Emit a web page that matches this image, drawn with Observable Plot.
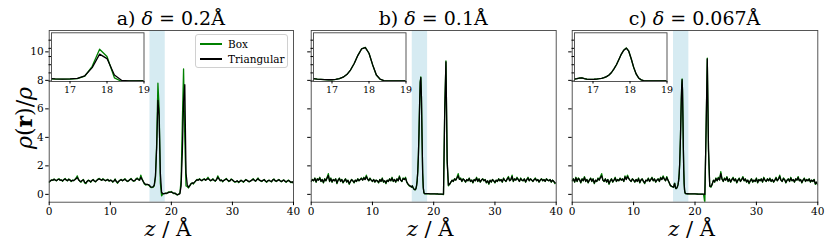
<!DOCTYPE html>
<html><head><meta charset="utf-8">
<script src="https://cdn.jsdelivr.net/npm/d3@7"></script>
<script src="https://cdn.jsdelivr.net/npm/@observablehq/plot@0.6"></script>
<style>
body{margin:0;background:#fff;}
#fig{position:relative;width:830px;height:249px;font-family:"DejaVu Serif",serif;color:#000;overflow:hidden;}
#fig svg{position:absolute;left:0;top:0;}
.lbl{position:absolute;white-space:nowrap;line-height:1;}
</style></head><body><div id="fig"></div>
<script>
// ---------- DATA ----------
const panelLetters = ["a)", "b)", "c)"];
const deltaLabels = ["0.2", "0.1", "0.067"];
const seriesNames = ["Box", "Triangular"];
const xTicks = [0, 10, 20, 30, 40];
const yTicks = [0, 2, 4, 6, 8, 10];
const insetXTicks = [17, 18, 19];
const insetYTicks = [0, 2, 4, 6, 8, 10];
const band = [16.5, 19];

// Panel a: z = 0 .. 40, step 0.2
const boxA = [
0.85,0.95,1.02,0.98,1.08,1.0,0.95,1.05,1.1,0.98,
1.02,0.92,1.05,1.12,1.0,0.95,1.08,1.02,0.9,1.0,
0.96,1.05,1.15,1.3,1.05,0.92,0.85,0.98,1.05,0.8,
0.75,0.9,1.0,0.95,0.85,0.98,1.05,0.92,0.88,1.0,
1.08,1.12,1.05,0.98,1.1,1.02,0.95,1.0,1.06,0.92,
1.0,0.98,0.85,0.95,1.08,0.88,0.78,0.92,1.0,1.05,
0.95,1.02,1.1,0.98,0.9,0.95,1.05,1.12,1.0,0.92,
0.95,1.08,1.15,1.05,1.0,1.35,1.1,0.9,0.72,0.65,
0.7,0.68,
0.6,0.5,0.48,0.5,0.6,1.2,3.6,7.8,6.0,0.8,
-0.1,0.02,0.05,0.08,0.05,0.12,0.18,0.15,0.2,0.12,0.05,0.1,0.0,-0.05,0.02,0.1,
1.0,5.0,8.8,4.0,0.6,0.55,
0.45,0.6,0.75,0.8,0.72,0.85,0.95,1.05,1.0,1.1,
1.02,0.95,1.05,1.1,0.98,1.08,1.2,1.05,0.95,1.0,
1.1,0.98,0.92,1.05,1.3,1.12,0.95,1.02,0.88,0.98,
1.05,1.12,1.0,0.9,0.95,1.08,1.02,0.92,0.85,0.88,
0.95,0.82,0.9,1.0,0.92,0.85,0.95,1.05,0.98,0.9,
0.88,0.95,1.02,1.1,0.98,0.92,1.05,1.15,1.0,0.95,
0.9,0.98,1.05,0.92,0.85,0.95,1.0,0.92,0.88,1.02,
1.08,0.95,0.9,0.98,1.05,0.96,0.88,0.95,1.02,0.92,
0.85,0.95,1.0,0.9,0.82,0.88,0.78];
const triA = [
0.88,0.95,1.0,1.0,1.05,1.0,0.97,1.03,1.06,1.0,
1.0,0.95,1.03,1.08,1.0,0.97,1.05,1.0,0.93,0.98,
0.97,1.03,1.1,1.18,1.03,0.94,0.9,0.97,1.02,0.85,
0.8,0.9,0.98,0.95,0.88,0.97,1.03,0.94,0.9,0.98,
1.05,1.08,1.04,0.99,1.06,1.01,0.97,1.0,1.03,0.95,
0.99,0.97,0.88,0.94,1.04,0.9,0.83,0.92,0.99,1.03,
0.96,1.01,1.06,0.98,0.92,0.95,1.03,1.08,1.0,0.94,
0.96,1.05,1.1,1.04,1.0,1.2,1.05,0.9,0.76,0.7,
0.7,0.68,
0.65,0.52,0.5,0.52,0.65,1.3,3.3,6.6,5.5,1.5,
0.15,0.05,0.05,0.06,0.08,0.1,0.14,0.15,0.16,0.12,0.08,0.06,0.02,-0.02,0.0,0.05,
0.6,3.0,6.5,7.7,1.5,0.7,
0.5,0.6,0.72,0.8,0.78,0.86,0.95,1.02,1.0,1.06,
1.0,0.97,1.03,1.06,1.0,1.05,1.12,1.04,0.97,1.0,
1.05,0.99,0.95,1.03,1.2,1.08,0.97,1.0,0.92,0.98,
1.03,1.08,1.0,0.93,0.96,1.05,1.01,0.94,0.89,0.9,
0.95,0.86,0.91,0.98,0.94,0.88,0.95,1.02,0.98,0.92,
0.9,0.95,1.0,1.06,0.98,0.94,1.03,1.1,1.0,0.96,
0.92,0.98,1.03,0.94,0.88,0.95,0.99,0.94,0.9,1.0,
1.05,0.96,0.92,0.98,1.03,0.96,0.9,0.95,1.0,0.93,
0.88,0.94,0.98,0.91,0.85,0.88,0.8];

// Panel b: left z = 0 .. 16.4 (step 0.2), peak z = 16.5 .. 19.0 (step 0.1), right z = 19.2 .. 40 (step 0.2)
const boxBLeft = [
0.9,1.05,0.95,1.15,0.85,1.1,1.0,1.2,0.9,1.05,
0.8,1.1,0.95,1.2,1.45,0.9,1.15,0.85,1.05,0.95,
1.1,0.75,1.0,1.15,0.9,1.05,0.8,0.95,1.1,0.85,
1.0,0.7,0.9,1.05,0.95,0.8,1.0,0.9,1.1,0.95,
1.05,1.15,1.0,1.2,1.05,1.35,1.1,0.95,1.15,1.0,
0.9,1.05,0.85,1.0,0.95,0.8,1.05,0.9,1.15,0.85,
0.95,0.75,1.0,0.9,1.1,0.95,1.2,0.9,1.05,0.85,
1.1,0.95,1.3,1.0,0.9,1.15,1.05,1.2,0.85,0.7,
0.6,0.55,0.5];
const triBLeft = [
0.92,1.03,0.96,1.12,0.88,1.07,1.0,1.15,0.92,1.03,
0.84,1.07,0.96,1.15,1.32,0.93,1.1,0.88,1.03,0.96,
1.07,0.8,1.0,1.11,0.92,1.03,0.84,0.96,1.07,0.88,
0.98,0.76,0.9,1.03,0.95,0.84,0.99,0.92,1.07,0.96,
1.04,1.11,1.0,1.15,1.04,1.25,1.07,0.97,1.1,1.0,
0.92,1.03,0.88,0.99,0.95,0.84,1.03,0.92,1.1,0.88,
0.95,0.8,0.98,0.92,1.07,0.96,1.14,0.92,1.03,0.88,
1.07,0.96,1.22,1.0,0.92,1.1,1.04,1.14,0.88,0.74,
0.64,0.58,0.52];
const boxBPeak = [0.6,0.5,0.42,0.35,0.33,0.32,0.4,0.6,0.95,1.6,2.7,4.3,6.3,7.9,8.25,6.8,3.9,1.45,0.45,0.1,0.05,0.04,0.05,0.04,0.05,0.04];
const triBPeak = [0.6,0.5,0.43,0.36,0.33,0.33,0.4,0.6,0.95,1.6,2.7,4.3,6.3,7.85,8.2,6.8,3.95,1.5,0.48,0.12,0.06,0.05,0.05,0.05,0.05,0.05];
const boxBRight = [
0.04,0.04,0.03,0.04,0.03,0.03,0.02,0.03,0.02,0.02,0.01,0.0,-0.01,
6.0,9.37,2.2,0.6,
0.7,0.85,1.0,0.9,1.1,1.0,1.2,1.45,1.05,1.15,
0.9,1.1,1.0,0.85,1.05,0.95,1.15,0.9,1.0,0.8,
1.05,0.95,1.2,0.9,1.1,0.85,1.0,1.1,0.95,1.05,
0.8,0.95,0.7,1.0,0.85,1.05,0.95,0.8,1.0,0.9,
1.1,0.95,1.05,0.85,1.15,1.0,0.9,1.1,1.25,0.95,
1.05,1.35,0.9,1.1,1.0,1.2,1.05,0.9,1.15,1.0,
0.95,1.1,0.85,1.05,1.2,0.95,1.1,1.0,0.9,1.05,
1.15,0.95,1.05,0.85,1.0,1.1,0.95,1.05,0.9,1.1,
1.0,0.95,1.05,0.85,1.0,0.9,0.75,0.8];
const triBRight = [
0.05,0.04,0.04,0.04,0.03,0.03,0.03,0.03,0.02,0.02,0.02,0.01,0.01,
5.8,9.3,2.4,0.65,
0.72,0.86,0.98,0.92,1.07,1.0,1.15,1.3,1.05,1.1,
0.92,1.07,1.0,0.88,1.03,0.96,1.11,0.92,1.0,0.84,
1.03,0.96,1.14,0.92,1.07,0.88,1.0,1.07,0.96,1.03,
0.84,0.95,0.76,0.98,0.88,1.03,0.95,0.84,0.99,0.92,
1.07,0.96,1.03,0.88,1.1,1.0,0.92,1.07,1.18,0.96,
1.03,1.25,0.93,1.07,1.0,1.14,1.04,0.92,1.1,1.0,
0.96,1.07,0.88,1.03,1.14,0.96,1.07,1.0,0.92,1.03,
1.1,0.96,1.03,0.88,1.0,1.07,0.96,1.03,0.92,1.07,
1.0,0.96,1.03,0.88,0.99,0.92,0.8,0.82];

// Panel c: left z = 0 .. 16.4 (step 0.2), peak z = 16.5 .. 18.967 (step 1/15), right z = 19.2 .. 40 (step 0.2)
const boxCLeft = [
0.95,1.1,0.85,1.2,0.9,1.15,1.05,0.8,1.1,0.95,
1.25,0.9,1.05,0.8,1.0,1.15,0.9,1.1,0.75,1.0,
0.9,1.15,1.0,1.25,1.45,1.0,0.9,1.1,0.85,1.05,
0.7,0.95,1.1,0.85,1.0,1.2,0.9,1.05,0.95,1.15,
1.0,1.1,0.9,1.3,1.05,1.35,1.15,1.0,0.9,1.1,
1.0,0.85,1.05,0.9,1.15,0.8,1.0,1.1,0.9,0.75,
1.0,0.95,1.15,0.9,1.05,1.2,0.95,1.1,0.85,1.0,
1.1,0.9,1.2,1.05,1.3,1.1,0.95,1.25,1.0,0.8,
0.6,0.55,0.52];
const triCLeft = [
0.96,1.07,0.88,1.15,0.92,1.11,1.03,0.84,1.07,0.96,
1.18,0.92,1.03,0.84,1.0,1.11,0.92,1.07,0.8,0.99,
0.92,1.1,1.0,1.18,1.3,1.0,0.92,1.07,0.88,1.03,
0.76,0.95,1.07,0.88,1.0,1.14,0.92,1.03,0.96,1.1,
1.0,1.07,0.92,1.22,1.04,1.25,1.1,1.0,0.92,1.07,
1.0,0.88,1.03,0.92,1.1,0.84,1.0,1.07,0.92,0.8,
0.99,0.95,1.1,0.92,1.03,1.15,0.96,1.07,0.88,1.0,
1.07,0.92,1.15,1.04,1.22,1.07,0.96,1.18,1.0,0.83,
0.63,0.57,0.53];
const boxCPeak = [0.5,0.6,0.75,0.78,0.6,0.45,0.4,0.42,0.45,0.5,0.58,0.68,0.85,1.1,1.5,2.1,3.0,4.0,5.3,6.6,7.6,8.1,7.3,5.4,3.3,1.7,0.75,0.3,0.12,0.06,0.05,0.04,0.05,0.04,0.04,0.05,0.04,0.04];
const triCPeak = [0.5,0.58,0.72,0.76,0.6,0.46,0.41,0.42,0.45,0.5,0.58,0.68,0.86,1.1,1.5,2.1,3.0,4.0,5.3,6.6,7.55,8.05,7.3,5.45,3.35,1.75,0.78,0.32,0.13,0.07,0.05,0.05,0.05,0.05,0.04,0.05,0.05,0.04];
const boxCRight = [
0.04,0.03,0.04,0.03,0.03,0.02,0.03,0.02,0.02,0.01,0.01,0.0,
-0.6,4.5,9.56,3.0,0.55,
0.5,0.7,1.0,0.85,1.15,0.95,1.2,1.0,1.6,1.1,
0.9,1.15,1.0,1.25,0.9,1.1,0.85,1.05,1.2,0.95,
1.1,0.8,1.0,1.15,0.9,1.05,1.25,0.95,1.1,0.85,
1.0,0.75,0.95,1.1,0.85,1.0,0.9,1.15,0.8,1.05,
0.95,1.1,0.85,1.2,1.0,0.9,1.1,0.95,1.15,0.9,
1.05,0.85,1.0,1.2,0.95,1.1,1.35,1.0,0.9,1.15,
1.05,0.8,1.0,1.1,0.9,1.2,0.95,1.05,0.85,1.1,
1.0,1.25,0.95,1.05,0.8,1.0,1.15,0.9,1.05,0.95,
1.1,0.85,1.0,0.9,1.05,0.7,0.85,0.65];
const triCRight = [
0.04,0.04,0.03,0.03,0.03,0.03,0.02,0.02,0.02,0.02,0.01,0.01,
0.0,4.3,9.5,3.2,0.6,
0.55,0.72,0.98,0.88,1.1,0.96,1.14,1.02,1.45,1.07,
0.92,1.1,1.0,1.18,0.92,1.07,0.88,1.03,1.14,0.96,
1.07,0.84,1.0,1.1,0.92,1.03,1.18,0.96,1.07,0.88,
0.99,0.8,0.95,1.07,0.88,0.99,0.92,1.1,0.84,1.03,
0.96,1.07,0.88,1.14,1.0,0.92,1.07,0.96,1.1,0.92,
1.03,0.88,1.0,1.14,0.96,1.07,1.25,1.0,0.92,1.1,
1.03,0.84,0.99,1.07,0.92,1.14,0.96,1.03,0.88,1.07,
1.0,1.18,0.96,1.03,0.84,1.0,1.1,0.92,1.03,0.96,
1.07,0.88,0.99,0.92,1.03,0.75,0.85,0.68];

// ---------- ASSEMBLY ----------
const panels = [
  {segs: [{start: 0, step: 0.2, box: boxA, tri: triA}]},
  {segs: [{start: 0, step: 0.2, box: boxBLeft, tri: triBLeft},
          {start: 16.5, step: 0.1, box: boxBPeak, tri: triBPeak},
          {start: 19.2, step: 0.2, box: boxBRight, tri: triBRight}]},
  {segs: [{start: 0, step: 0.2, box: boxCLeft, tri: triCLeft},
          {start: 16.5, step: 1/15, box: boxCPeak, tri: triCPeak},
          {start: 19.2, step: 0.2, box: boxCRight, tri: triCRight}]}
];
function build(segs, key) {
  const out = [];
  for (const s of segs) s[key].forEach((v, i) => out.push({z: s.start + i * s.step, v}));
  return out;
}

// ---------- LAYOUT ----------
const W = 830, H = 249;
const frames = [{l: 48.7, r: 293}, {l: 310.7, r: 555.7}, {l: 571.7, r: 817.3}];
const fTop = 30, fBot = 201.7;
const inTop = 32.3, inBot = 81, inOff = 2.3, inW = 92.5;
const GREEN = "#008000", BLACK = "#000000";
const fig = document.getElementById("fig");

panels.forEach((p, i) => {
  const f = frames[i];
  const box = build(p.segs, "box"), tri = build(p.segs, "tri");
  const main = Plot.plot({
    width: W, height: H,
    marginLeft: f.l, marginRight: W - f.r, marginTop: fTop, marginBottom: H - fBot,
    style: {background: "transparent", fontFamily: "DejaVu Serif", fontSize: "10.5px", color: "#000", overflow: "visible"},
    x: {domain: [0, 40]},
    y: {domain: [-0.55, 11.5]},
    marks: [
      Plot.rect([{lo: band[0], hi: band[1]}], {x1: "lo", x2: "hi", fill: "#add8e6", fillOpacity: 0.5}),
      Plot.line(box, {x: "z", y: "v", stroke: GREEN, strokeWidth: 1.3, clip: true}),
      Plot.line(tri, {x: "z", y: "v", stroke: BLACK, strokeWidth: 1.3, clip: true}),
      Plot.frame({stroke: "#444", strokeWidth: 0.9}),
      Plot.axisX({ticks: xTicks, tickSize: 3.5, tickPadding: 2, label: null, tickFormat: d => String(d)}),
      Plot.axisY({ticks: yTicks, tickSize: 3.5, tickPadding: 2, label: null,
                  tickFormat: i === 0 ? (d => String(d)) : (() => "")})
    ]
  });
  fig.appendChild(main);

  const il = f.l + inOff, ir = il + inW;
  const inset = Plot.plot({
    width: W, height: H,
    marginLeft: il, marginRight: W - ir, marginTop: inTop, marginBottom: H - inBot,
    style: {background: "transparent", fontFamily: "DejaVu Serif", fontSize: "9.5px", color: "#000", overflow: "visible"},
    x: {domain: [16.5, 19]},
    y: {domain: [-0.1, 11.8]},
    marks: [
      Plot.frame({fill: "white", stroke: "none"}),
      Plot.line(box, {x: "z", y: "v", stroke: GREEN, strokeWidth: 1.3, clip: true}),
      Plot.line(tri, {x: "z", y: "v", stroke: BLACK, strokeWidth: 1.3, clip: true}),
      Plot.frame({stroke: "#444", strokeWidth: 0.9}),
      Plot.axisX({ticks: insetXTicks, tickSize: 2.5, tickPadding: 2, label: null, tickFormat: d => String(d)}),
      Plot.axisY({ticks: insetYTicks, tickSize: 2.5, label: null, tickFormat: () => ""})
    ]
  });
  fig.appendChild(inset);

  const cx = (f.l + f.r) / 2;
  const t = document.createElement("div");
  t.className = "lbl";
  t.style.cssText = `left:${cx}px;top:9px;font-size:19px;transform:translateX(-50%);`;
  t.innerHTML = `${panelLetters[i]} <i>δ</i> = ${deltaLabels[i]}Å`;
  fig.appendChild(t);

  const xl = document.createElement("div");
  xl.className = "lbl";
  xl.style.cssText = `left:${cx - 3}px;top:219px;font-size:21px;transform:translateX(-50%);`;
  xl.innerHTML = `<i>z</i> / Å`;
  fig.appendChild(xl);
});

// y label
const yl = document.createElement("div");
yl.className = "lbl";
yl.style.cssText = "left:24px;top:118px;font-size:22px;transform:translate(-50%,-50%) rotate(-90deg);";
yl.innerHTML = "<i>ρ</i>(<b>r</b>)/<i>ρ</i>";
fig.appendChild(yl);

// legend (panel a)
const leg = document.createElement("div");
leg.style.cssText = "position:absolute;left:195px;top:34px;width:93px;height:34px;background:#fff;border:1px solid #d0d0d0;border-radius:3px;box-sizing:border-box;";
[GREEN, BLACK].forEach((c, k) => {
  const sw = document.createElement("div");
  sw.style.cssText = `position:absolute;left:4px;top:${8 + k * 15}px;width:22px;height:1.5px;background:${c};`;
  leg.appendChild(sw);
  const tx = document.createElement("div");
  tx.className = "lbl";
  tx.style.cssText = `left:32px;top:${3.5 + k * 15}px;font-size:10.5px;`;
  tx.textContent = seriesNames[k];
  leg.appendChild(tx);
});
fig.appendChild(leg);
</script></body></html>
